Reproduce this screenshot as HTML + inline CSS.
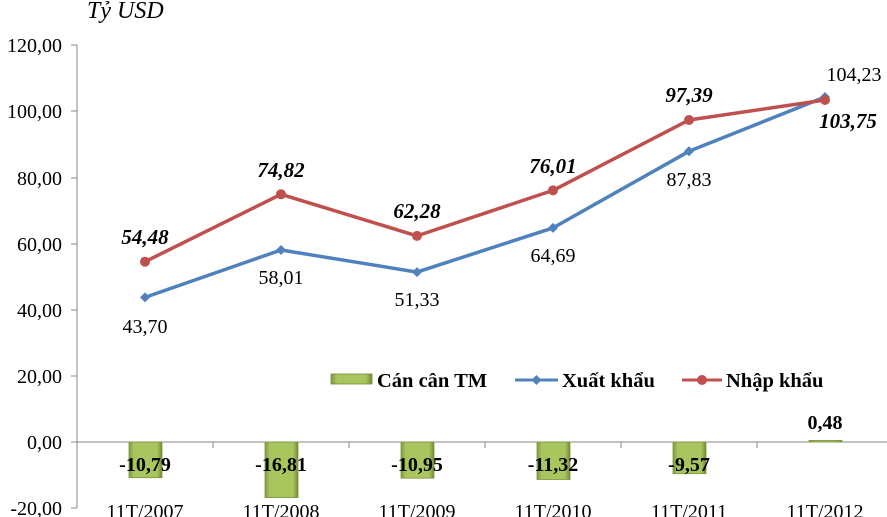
<!DOCTYPE html>
<html><head><meta charset="utf-8"><style>
html,body{margin:0;padding:0;background:#fff;}
svg{display:block;font-family:"Liberation Serif",serif;}
</style></head><body>
<svg width="887" height="517" viewBox="0 0 887 517">
<defs>
<linearGradient id="g" x1="0" x2="1" y1="0" y2="0">
<stop offset="0" stop-color="#7f9a3f"/><stop offset="0.15" stop-color="#a9c65e"/><stop offset="0.85" stop-color="#a9c65e"/><stop offset="1" stop-color="#6f8a35"/>
</linearGradient>
</defs>
<text x="87" y="18" font-size="24" font-style="italic">Tỷ USD</text>
<g stroke="#888" stroke-width="1">
<line x1="77" y1="45" x2="77" y2="508"/>
<line x1="71" y1="45" x2="77" y2="45"/>
<line x1="71" y1="111" x2="77" y2="111"/>
<line x1="71" y1="178" x2="77" y2="178"/>
<line x1="71" y1="244" x2="77" y2="244"/>
<line x1="71" y1="310" x2="77" y2="310"/>
<line x1="71" y1="376" x2="77" y2="376"/>
<line x1="71" y1="442" x2="77" y2="442"/>
<line x1="71" y1="508" x2="77" y2="508"/>
<line x1="77" y1="442" x2="887" y2="442"/>
<line x1="213" y1="442" x2="213" y2="448"/>
<line x1="349" y1="442" x2="349" y2="448"/>
<line x1="485" y1="442" x2="485" y2="448"/>
<line x1="621" y1="442" x2="621" y2="448"/>
<line x1="757" y1="442" x2="757" y2="448"/>
</g>
<g font-size="20" text-anchor="end">
<text x="62" y="52">120,00</text>
<text x="62" y="118">100,00</text>
<text x="62" y="185">80,00</text>
<text x="62" y="251">60,00</text>
<text x="62" y="317">40,00</text>
<text x="62" y="383">20,00</text>
<text x="62" y="449">0,00</text>
<text x="62" y="515">-20,00</text>
</g>
<g fill="url(#g)" stroke="#7a9640" stroke-width="0.8">
<rect x="129" y="442" width="33" height="35.7"/>
<rect x="265" y="442" width="33" height="55.6"/>
<rect x="401" y="442" width="33" height="36.2"/>
<rect x="537" y="442" width="33" height="37.5"/>
<rect x="673" y="442" width="33" height="31.7"/>
<rect x="809" y="440.4" width="33" height="1.6"/>
</g>
<g font-size="20" font-weight="bold" text-anchor="middle">
<text x="145" y="471">-10,79</text>
<text x="281" y="471">-16,81</text>
<text x="417" y="471">-10,95</text>
<text x="553" y="471">-11,32</text>
<text x="689" y="471">-9,57</text>
<text x="825" y="429">0,48</text>
</g>
<g font-size="20" text-anchor="middle">
<text x="145" y="518">11T/2007</text>
<text x="281" y="518">11T/2008</text>
<text x="417" y="518">11T/2009</text>
<text x="553" y="518">11T/2010</text>
<text x="689" y="518">11T/2011</text>
<text x="825" y="518">11T/2012</text>
</g>
<polyline fill="none" stroke="#4f81bd" stroke-width="3.5" stroke-linejoin="round" points="145,297.4 281,250 417,272.1 553,227.9 689,151.3 825,97"/>
<g fill="#4f81bd">
<polygon points="145,292.4 150,297.4 145,302.4 140,297.4"/>
<polygon points="281,245 286,250 281,255 276,250"/>
<polygon points="417,267.1 422,272.1 417,277.1 412,272.1"/>
<polygon points="553,222.9 558,227.9 553,232.9 548,227.9"/>
<polygon points="689,146.3 694,151.3 689,156.3 684,151.3"/>
<polygon points="825,92 830,97 825,102 820,97"/>
</g>
<polyline fill="none" stroke="#c0504d" stroke-width="3.5" stroke-linejoin="round" points="145,261.7 281,194.3 417,235.9 553,190.4 689,120 825,100"/>
<g fill="#c0504d">
<circle cx="145" cy="261.7" r="5"/>
<circle cx="281" cy="194.3" r="5"/>
<circle cx="417" cy="235.9" r="5"/>
<circle cx="553" cy="190.4" r="5"/>
<circle cx="689" cy="120" r="5"/>
<circle cx="825" cy="100" r="5"/>
</g>
<g font-size="20" text-anchor="middle">
<text x="145" y="333">43,70</text>
<text x="281" y="284">58,01</text>
<text x="417" y="306">51,33</text>
<text x="553" y="262">64,69</text>
<text x="689" y="186">87,83</text>
<text x="854" y="81">104,23</text>
</g>
<g font-size="21" font-weight="bold" font-style="italic" text-anchor="middle">
<text x="145" y="244">54,48</text>
<text x="281" y="177">74,82</text>
<text x="417" y="218">62,28</text>
<text x="553" y="173">76,01</text>
<text x="689" y="102">97,39</text>
<text x="848" y="128">103,75</text>
</g>
<rect x="331" y="374" width="41" height="10" fill="url(#g)" stroke="#6f8a35" stroke-width="0.8"/>
<line x1="515" y1="380" x2="558" y2="380" stroke="#4f81bd" stroke-width="3"/>
<polygon points="536.5,375 541.5,380 536.5,385 531.5,380" fill="#4f81bd"/>
<line x1="682" y1="380" x2="722" y2="380" stroke="#c0504d" stroke-width="3"/>
<circle cx="702" cy="380" r="5" fill="#c0504d"/>
<g font-size="20.5" font-weight="bold">
<text x="377" y="387">Cán cân TM</text>
<text x="562" y="387">Xuất khẩu</text>
<text x="726" y="387">Nhập khẩu</text>
</g>
</svg>
</body></html>
